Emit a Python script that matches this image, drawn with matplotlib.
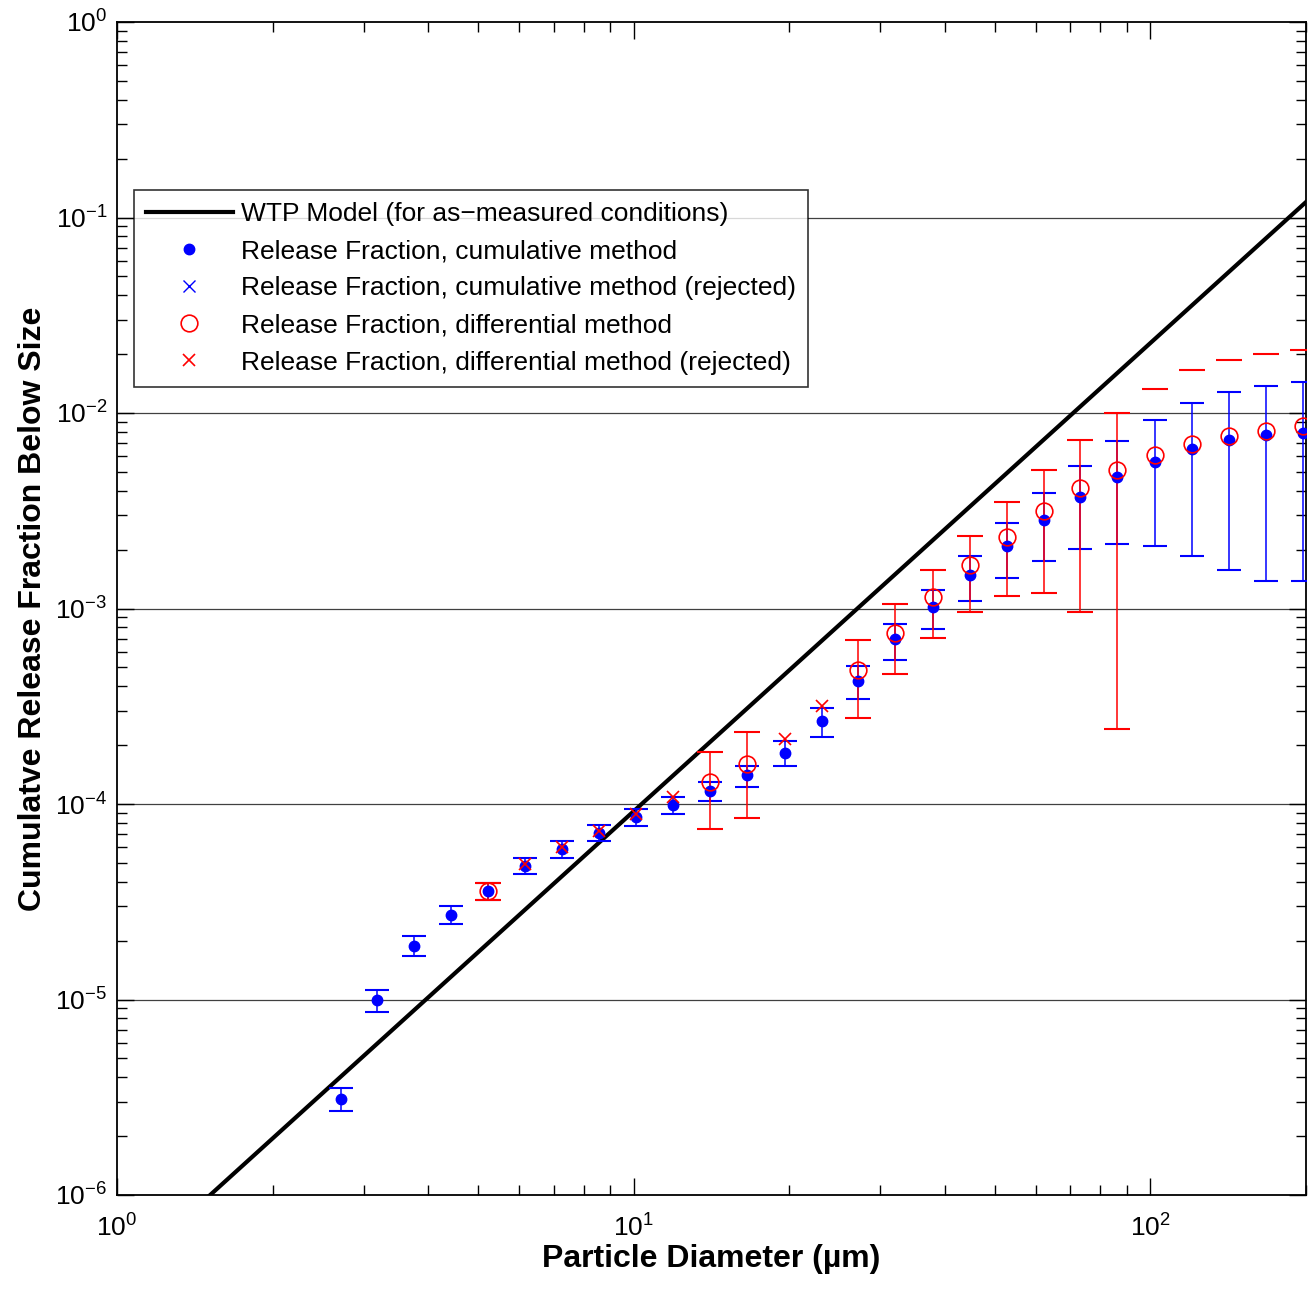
import numpy as np
import matplotlib
matplotlib.use('Agg')
import matplotlib.pyplot as plt
from matplotlib.ticker import LogLocator, NullFormatter

plt.rcParams['font.family'] = ['Liberation Sans', 'DejaVu Sans']
plt.rcParams['mathtext.fontset'] = 'custom'
plt.rcParams['mathtext.rm'] = 'Liberation Sans'
plt.rcParams['mathtext.it'] = 'Liberation Sans'

# WTP model line (end points)
model_d = [1.0, 200.0]
model_rf = [3.7e-7, 0.12]

# cumulative method, all bins
diam = [2.71, 3.18, 3.75, 4.43, 5.22, 6.15, 7.26, 8.56, 10.09, 11.9, 14.03, 16.6, 19.6,
        23.1, 27.2, 32.1, 37.9, 44.7, 52.7, 62.1, 73.2, 86.3, 102.2, 120.5, 142.2, 167.6, 197.7]
cum_rf = [3.1e-6, 1.0e-5, 1.88e-5, 2.7e-5, 3.59e-5, 4.82e-5, 5.89e-5, 7.1e-5, 8.6e-5, 9.9e-5,
          1.16e-4, 1.4e-4, 1.83e-4, 2.65e-4, 4.26e-4, 6.98e-4, 1.02e-3, 1.48e-3, 2.09e-3,
          2.84e-3, 3.72e-3, 4.69e-3, 5.64e-3, 6.52e-3, 7.25e-3, 7.71e-3, 7.93e-3]
cum_hi = [3.52e-6, 1.12e-5, 2.12e-5, 3.02e-5, 3.96e-5, 5.31e-5, 6.45e-5, 7.83e-5, 9.4e-5, 1.09e-4,
          1.29e-4, 1.56e-4, 2.09e-4, 3.09e-4, 5.1e-4, 8.33e-4, 1.25e-3, 1.86e-3, 2.75e-3,
          3.9e-3, 5.38e-3, 7.22e-3, 9.2e-3, 1.12e-2, 1.28e-2, 1.38e-2, 1.44e-2]
cum_lo = [2.69e-6, 8.67e-6, 1.66e-5, 2.43e-5, 3.23e-5, 4.37e-5, 5.3e-5, 6.49e-5, 7.7e-5, 8.9e-5,
          1.04e-4, 1.22e-4, 1.56e-4, 2.2e-4, 3.46e-4, 5.43e-4, 7.88e-4, 1.09e-3, 1.43e-3,
          1.75e-3, 2.01e-3, 2.14e-3, 2.08e-3, 1.86e-3, 1.57e-3, 1.38e-3, 1.38e-3]

# cumulative method, rejected (none visible)
cum_rej_d = []
cum_rej_rf = []

# differential method, accepted bins (nan = lower bound not plotted)
diff_d = [5.22, 14.03, 16.6, 27.2, 32.1, 37.9, 44.7, 52.7, 62.1, 73.2, 86.3, 102.2, 120.5,
          142.2, 167.6, 197.7]
diff_rf = [3.6e-5, 1.29e-4, 1.6e-4, 4.85e-4, 7.52e-4, 1.15e-3, 1.66e-3, 2.33e-3, 3.16e-3,
           4.12e-3, 5.11e-3, 6.1e-3, 6.94e-3, 7.6e-3, 8.09e-3, 8.59e-3]
diff_hi = [3.96e-5, 1.84e-4, 2.34e-4, 6.9e-4, 1.05e-3, 1.58e-3, 2.36e-3, 3.51e-3, 5.11e-3,
           7.3e-3, 1.0e-2, 1.33e-2, 1.65e-2, 1.87e-2, 2.0e-2, 2.11e-2]
diff_lo = [3.23e-5, 7.45e-5, 8.45e-5, 2.74e-4, 4.6e-4, 7.07e-4, 9.63e-4, 1.16e-3, 1.2e-3,
           9.63e-4, 2.41e-4, np.nan, np.nan, np.nan, np.nan, np.nan]

# differential method, rejected
diff_rej_d = [6.15, 7.26, 8.56, 10.09, 11.9, 19.6, 23.1]
diff_rej_rf = [4.92e-5, 6.0e-5, 7.27e-5, 8.9e-5, 1.09e-4, 2.15e-4, 3.17e-4]

fig = plt.figure(figsize=(13.08, 12.89), dpi=100)
ax = fig.add_axes([117/1308, 1 - 1195/1289, 1189/1308, 1173/1289])

ax.set_xscale('log')
ax.set_yscale('log')

for yv in [1e-5, 1e-4, 1e-3, 1e-2, 1e-1]:
    ax.axhline(yv, color='#404040', lw=0.9, zorder=0)

ax.plot(model_d, model_rf, '-', color='k', lw=3, zorder=2,
        label='WTP Model (for as\u2212measured conditions)')

cum_rf_a = np.array(cum_rf)
ax.errorbar(diam, cum_rf, yerr=[cum_rf_a - np.array(cum_lo), np.array(cum_hi) - cum_rf_a],
            fmt='none', ecolor='b', elinewidth=1.1, capsize=8.6, capthick=1.5, zorder=3)

diff_rf_a = np.array(diff_rf)
ax.errorbar(diff_d, diff_rf, yerr=[diff_rf_a - np.array(diff_lo), np.array(diff_hi) - diff_rf_a],
            fmt='none', ecolor='r', elinewidth=1.1, capsize=9.7, capthick=1.5, zorder=4)

ax.plot(diam, cum_rf, 'o', color='b', ms=7.5, mec='b', ls='none', zorder=5,
        label='Release Fraction, cumulative method')
ax.plot(cum_rej_d, cum_rej_rf, 'x', color='b', ms=9, mew=1, ls='none', zorder=5,
        label='Release Fraction, cumulative method (rejected)')
ax.plot(diff_d, diff_rf, 'o', mfc='none', mec='r', ms=12, mew=1.2, ls='none', zorder=6,
        label='Release Fraction, differential method')
ax.plot(diff_rej_d, diff_rej_rf, 'x', color='r', ms=9, mew=1.2, ls='none', zorder=6,
        label='Release Fraction, differential method (rejected)')

ax.set_xlim(1, 200)
ax.set_ylim(1e-6, 1)

ax.xaxis.set_major_locator(LogLocator(base=10, numticks=10))
ax.yaxis.set_major_locator(LogLocator(base=10, numticks=10))
ax.xaxis.set_minor_locator(LogLocator(base=10, subs=np.arange(2, 10), numticks=20))
ax.yaxis.set_minor_locator(LogLocator(base=10, subs=np.arange(2, 10), numticks=20))
ax.xaxis.set_minor_formatter(NullFormatter())
ax.yaxis.set_minor_formatter(NullFormatter())
ax.tick_params(which='both', direction='in', top=True, right=True, labelsize=19, width=1)
ax.tick_params(which='major', length=12)
ax.tick_params(which='minor', length=7)
ax.tick_params(axis='x', pad=14)
ax.tick_params(axis='y', pad=7)
for s in ax.spines.values():
    s.set_linewidth(1.3)

ax.set_xlabel('Particle Diameter (\u00b5m)', fontsize=23, fontweight='bold', labelpad=2)
ax.set_ylabel('Cumulatve Release Fraction Below Size', fontsize=23, fontweight='bold', labelpad=5)

leg = ax.legend(loc='upper left', bbox_to_anchor=(0.0143, 0.8568), borderaxespad=0,
                fontsize=19, frameon=True, fancybox=False, edgecolor='k',
                handlelength=3.3, handletextpad=0.3, borderpad=0.45, labelspacing=0.5,
                numpoints=1)
leg.get_frame().set_linewidth(1.2)

fig.savefig('out.png', dpi=100)
